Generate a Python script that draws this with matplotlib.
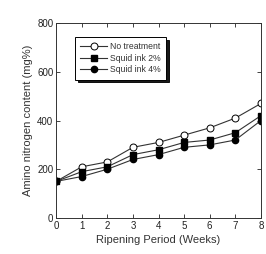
import matplotlib.pyplot as plt
import numpy as np

weeks = [0, 1, 2, 3, 4, 5, 6, 7, 8]
no_treatment = [150, 210, 230, 290, 310, 340, 370, 410, 470]
squid_2 = [150, 190, 210, 260, 280, 310, 320, 350, 420]
squid_4 = [150, 170, 200, 240, 260, 290, 300, 320, 400]

plt.rcParams['font.family'] = ['Liberation Sans', 'DejaVu Sans']

fig = plt.figure(figsize=(2.66, 2.54), dpi=100)
ax = fig.add_axes([0.211, 0.142, 0.77, 0.767])

lc = '#333333'
ax.plot(weeks, no_treatment, color=lc, lw=0.8, marker='o', ms=5,
        mfc='white', mec='black', mew=0.7, label='No treatment')
ax.plot(weeks, squid_2, color=lc, lw=0.8, marker='s', ms=5,
        mfc='black', mec='black', label='Squid ink 2%')
ax.plot(weeks, squid_4, color=lc, lw=0.8, marker='o', ms=4.5,
        mfc='black', mec='black', label='Squid ink 4%')

ax.set_xlim(0, 8)
ax.set_ylim(0, 800)
ax.set_xticks(weeks)
ax.set_yticks([0, 200, 400, 600, 800])
ax.tick_params(direction='in', top=True, right=True, length=3, width=0.6,
               labelsize=7, pad=2, colors='#222222')
for s in ax.spines.values():
    s.set_linewidth(0.7)
    s.set_color('#333333')

ax.set_xlabel('Ripening Period (Weeks)', fontsize=8, color='#333333', labelpad=3)
ax.set_ylabel('Amino nitrogen content (mg%)', fontsize=8, color='#333333', labelpad=3)

leg = ax.legend(loc='upper left', bbox_to_anchor=(0.07, 0.95), fontsize=6.2,
                frameon=True, fancybox=False, shadow={'color': 'black', 'alpha': 0.9},
                handlelength=3.2, borderpad=0.6, labelspacing=0.3, handletextpad=0.3)
leg.get_frame().set_edgecolor('black')
leg.get_frame().set_linewidth(0.7)
for t in leg.get_texts():
    t.set_color('#333333')

plt.savefig('out.png', dpi=100)
